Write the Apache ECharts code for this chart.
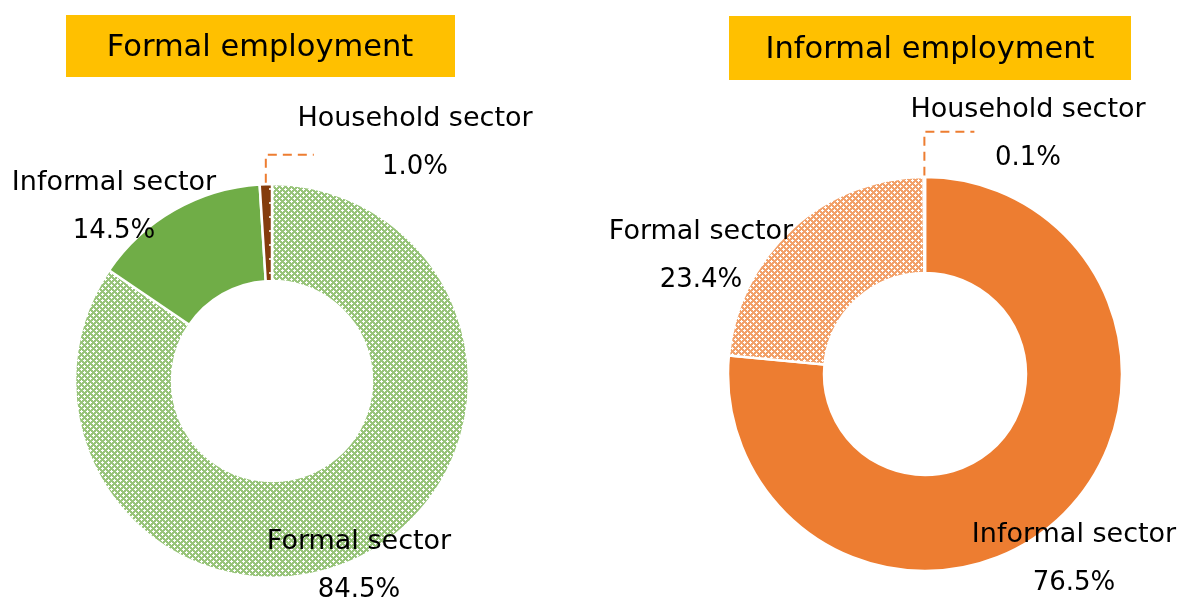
<!DOCTYPE html>
<html>
<head>
<meta charset="utf-8">
<script src="https://cdn.jsdelivr.net/npm/echarts@6/dist/echarts.min.js"></script>
<style>
html,body{margin:0;padding:0;background:#fff;}
#chart{width:1179px;height:601px;}
</style>
</head>
<body>
<div id="chart"></div>
<script>
// ---- data ----
const titles = ['Formal employment', 'Informal employment'];
const formalEmpCategories = ['Formal sector', 'Informal sector', 'Household sector'];
const formalEmpValues = [84.5, 14.5, 1.0];
const informalEmpCategories = ['Informal sector', 'Formal sector', 'Household sector'];
const informalEmpValues = [76.5, 23.4, 0.1];

// ---- styling helpers ----
const FONT = 'DejaVu Sans';
function crossPattern(color) {
  const c = document.createElement('canvas');
  c.width = 6; c.height = 6;
  const ctx = c.getContext('2d');
  ctx.fillStyle = '#fff';
  ctx.fillRect(0, 0, 6, 6);
  const centers = [[0,0],[3,3],[6,0],[0,6],[6,6]];
  ctx.fillStyle = color;
  ctx.globalAlpha = 0.72;
  for (let i = 0; i < 6; i++) {
    for (let j = 0; j < 6; j++) {
      let white = false;
      for (const [cx, cy] of centers) {
        if (Math.abs(i - cx) + Math.abs(j - cy) <= 1) white = true;
      }
      if (!white) ctx.fillRect(i, j, 1, 1);
    }
  }
  return {image: c, repeat: 'repeat'};
}
function dotPattern(color) {
  const c = document.createElement('canvas');
  c.width = 12; c.height = 14;
  const ctx = c.getContext('2d');
  ctx.fillStyle = color;
  ctx.fillRect(0, 0, 12, 14);
  ctx.fillStyle = '#e8d8c8';
  ctx.fillRect(5, 6, 2, 2);
  return {image: c, repeat: 'repeat'};
}

const GREEN = '#70AD47', ORANGE = '#ED7D31', BROWN = '#843C0C';

// label block centres (layout)
const leftLabelPos = [[359, 566], [114, 207], [415, 143]];
const rightLabelPos = [[1074, 559], [701, 256], [1028, 134]];
const leftLeader = [28, 48];
const rightLeader = [44, 50];

function makeLayout(pos, leader) {
  return function (params) {
    const p = pos[params.dataIndex];
    const out = {x: p[0], y: p[1], align: 'center', verticalAlign: 'middle'};
    if (params.dataIndex === 2) {
      const r = params.rect;
      const sx = r.x + r.width / 2, sy = r.y;
      out.labelLinePoints = [[sx, sy], [sx, sy - leader[0]], [sx + leader[1], sy - leader[0]]];
    }
    return out;
  };
}

const labelCfg = {
  show: true,
  position: 'outside',
  formatter: function (p) { return '{n|' + p.name + '}\n{v|' + p.value.toFixed(1) + '%}'; },
  rich: {
    n: {fontFamily: FONT, fontSize: 27, color: '#000', lineHeight: 49, align: 'center'},
    v: {fontFamily: FONT, fontSize: 26, color: '#000', lineHeight: 49, align: 'center'}
  }
};
const leaderStyle = {show: true, lineStyle: {color: ORANGE, width: 2, type: [9, 6]}};

function buildData(cats, vals, colors) {
  return cats.map((c, i) => ({
    name: c, value: vals[i],
    itemStyle: {color: colors[i]},
    labelLine: i === 2 ? leaderStyle : {show: false}
  }));
}

const chart = echarts.init(document.getElementById('chart'), null, {renderer: 'canvas'});
chart.setOption({
  animation: false,
  backgroundColor: '#fff',
  graphic: [
    {type: 'group', left: 66, top: 15, children: [
      {type: 'rect', shape: {x: 0, y: 0, width: 389, height: 62}, style: {fill: '#FFC000'}},
      {type: 'text', x: 194, y: 33, style: {text: titles[0], fontFamily: FONT, fontSize: 30.5, fill: '#000', align: 'center', verticalAlign: 'middle'}}
    ]},
    {type: 'group', left: 729, top: 16, children: [
      {type: 'rect', shape: {x: 0, y: 0, width: 402, height: 64}, style: {fill: '#FFC000'}},
      {type: 'text', x: 201, y: 34, style: {text: titles[1], fontFamily: FONT, fontSize: 30.5, fill: '#000', align: 'center', verticalAlign: 'middle'}}
    ]}
  ],
  series: [
    {
      type: 'pie',
      center: [272, 381],
      radius: [100, 197],
      startAngle: 90,
      clockwise: true,
      avoidLabelOverlap: false,
      emphasis: {disabled: true},
      itemStyle: {borderColor: '#fff', borderWidth: 2.5},
      label: labelCfg,
      labelLayout: makeLayout(leftLabelPos, leftLeader),
      data: buildData(formalEmpCategories, formalEmpValues, [crossPattern(GREEN), GREEN, dotPattern(BROWN)])
    },
    {
      type: 'pie',
      center: [925, 374],
      radius: [101, 197],
      startAngle: 90,
      clockwise: true,
      avoidLabelOverlap: false,
      emphasis: {disabled: true},
      itemStyle: {borderColor: '#fff', borderWidth: 2.5},
      label: labelCfg,
      labelLayout: makeLayout(rightLabelPos, rightLeader),
      data: buildData(informalEmpCategories, informalEmpValues, [ORANGE, crossPattern(ORANGE), BROWN])
    }
  ]
});
</script>
</body>
</html>
